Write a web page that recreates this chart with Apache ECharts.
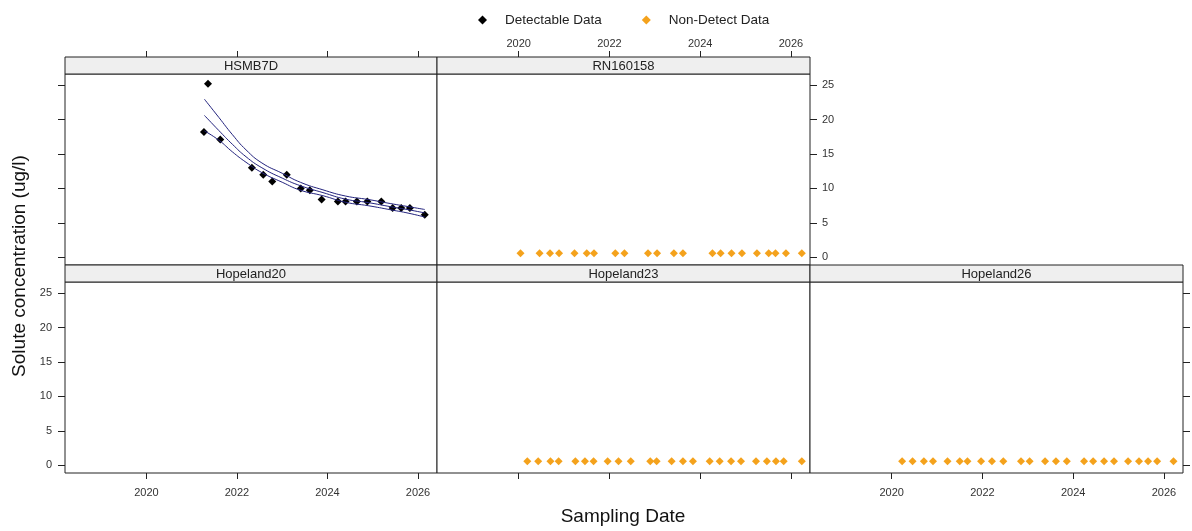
<!DOCTYPE html>
<html>
<head>
<meta charset="utf-8">
<script src="https://cdn.jsdelivr.net/npm/echarts@6/dist/echarts.min.js"></script>
<style>
  html, body { margin: 0; padding: 0; background: #fff; }
  #main { width: 1192px; height: 531px; }
</style>
</head>
<body>
<div id="main"></div>
<script>
// ---- data (decimal years, ug/l) ----
const xTicks = [2020, 2022, 2024, 2026];
const yTicks = [0, 5, 10, 15, 20, 25];

// HSMB7D detectable samples
const hsmbDates = [2021.27, 2021.36, 2021.63, 2022.33, 2022.58, 2022.78, 2023.10, 2023.41, 2023.61, 2023.87,
  2024.23, 2024.40, 2024.65, 2024.88, 2025.19, 2025.44, 2025.63, 2025.82, 2026.15];
const hsmbValues = [18.2, 25.2, 17.1, 13.0, 12.0, 11.0, 12.0, 10.0, 9.75, 8.4,
  8.1, 8.1, 8.1, 8.1, 8.1, 7.15, 7.15, 7.15, 6.2];

// HSMB7D trend line and its bands
const fitDates = [2021.28, 2021.6, 2021.9, 2022.2, 2022.55, 2023.0, 2023.4, 2023.9, 2024.4, 2024.9, 2025.4, 2025.8, 2026.15];
const fitUpper = [22.95, 20.3, 17.8, 15.6, 13.7, 12.2, 10.9, 9.8, 8.9, 8.4, 7.8, 7.35, 6.95];
const fitMid = [20.6, 18.4, 16.4, 14.6, 13.0, 11.5, 10.4, 9.4, 8.45, 7.95, 7.35, 6.9, 6.45];
const fitLower = [18.35, 17.0, 15.3, 13.8, 12.3, 10.9, 9.75, 8.95, 8.0, 7.5, 6.9, 6.4, 5.85];

// non-detects
const rnDates = [2020.04, 2020.46, 2020.69, 2020.89, 2021.23, 2021.50, 2021.66, 2022.13, 2022.33, 2022.85, 2023.05,
  2023.42, 2023.62, 2024.27, 2024.45, 2024.69, 2024.92, 2025.25, 2025.51, 2025.66, 2025.89, 2026.24];
const rnValues = [0.6, 0.6, 0.6, 0.6, 0.6, 0.6, 0.6, 0.6, 0.6, 0.6, 0.6,
  0.6, 0.6, 0.6, 0.6, 0.6, 0.6, 0.6, 0.6, 0.6, 0.6, 0.6];
const h23Dates = [2020.19, 2020.43, 2020.70, 2020.88, 2021.25, 2021.46, 2021.65, 2021.96, 2022.20, 2022.47, 2022.90, 2023.04,
  2023.37, 2023.62, 2023.84, 2024.21, 2024.43, 2024.68, 2024.90, 2025.23, 2025.47, 2025.67, 2025.84, 2026.24];
const h23Values = [0.6, 0.6, 0.6, 0.6, 0.6, 0.6, 0.6, 0.6, 0.6, 0.6, 0.6, 0.6,
  0.6, 0.6, 0.6, 0.6, 0.6, 0.6, 0.6, 0.6, 0.6, 0.6, 0.6, 0.6];
const h26Dates = [2020.23, 2020.46, 2020.71, 2020.91, 2021.23, 2021.50, 2021.67, 2021.97, 2022.21, 2022.46, 2022.85, 2023.04,
  2023.38, 2023.62, 2023.86, 2024.24, 2024.44, 2024.68, 2024.90, 2025.21, 2025.45, 2025.65, 2025.85, 2026.21];
const h26Values = [0.6, 0.6, 0.6, 0.6, 0.6, 0.6, 0.6, 0.6, 0.6, 0.6, 0.6, 0.6,
  0.6, 0.6, 0.6, 0.6, 0.6, 0.6, 0.6, 0.6, 0.6, 0.6, 0.6, 0.6];

const FONT = '"Liberation Sans", Arial, sans-serif';
const ORANGE = '#F4A21C';
const LINE = '#23237e';
const xMin = 2018.2, xMax = 2026.42, yMin = -1.1, yMax = 26.6;

function pairs(xs, ys) {
  return xs.map((x, i) => [x, ys[i]]);
}

// panel layout: plot area + strip on top of it
const panels = [
  { name: 'HSMB7D', left: 65, top: 74, width: 372, xBottom: 'none', xTop: 'ticks', yLeft: 'ticks', yRight: 'none' },
  { name: 'RN160158', left: 437, top: 74, width: 373, xBottom: 'none', xTop: 'labels', yLeft: 'none', yRight: 'labels' },
  { name: 'Hopeland20', left: 65, top: 282, width: 372, xBottom: 'labels', xTop: 'none', yLeft: 'labels', yRight: 'none' },
  { name: 'Hopeland23', left: 437, top: 282, width: 373, xBottom: 'ticks', xTop: 'none', yLeft: 'none', yRight: 'none' },
  { name: 'Hopeland26', left: 810, top: 282, width: 373, xBottom: 'labels', xTop: 'none', yLeft: 'none', yRight: 'ticks' }
];
const plotH = 191, stripH = 17;

const grids = [], xAxes = [], yAxes = [], strips = [];

function xAxis(gridIndex, position, mode, margin) {
  return {
    type: 'value', gridIndex: gridIndex, position: position, min: xMin, max: xMax,
    axisLine: { show: false, onZero: false }, splitLine: { show: false },
    axisTick: { show: mode !== 'none', customValues: xTicks, length: 6, lineStyle: { color: '#222' } },
    axisLabel: { show: mode === 'labels', customValues: xTicks, margin: margin, fontSize: 11, color: '#333',
      fontFamily: FONT, formatter: v => String(v) }
  };
}
function yAxis(gridIndex, position, mode, margin) {
  return {
    type: 'value', gridIndex: gridIndex, position: position, min: yMin, max: yMax,
    axisLine: { show: false, onZero: false }, splitLine: { show: false },
    axisTick: { show: mode !== 'none', customValues: yTicks, length: 7, lineStyle: { color: '#222' } },
    axisLabel: { show: mode === 'labels', customValues: yTicks, margin: margin, fontSize: 11, color: '#333',
      fontFamily: FONT, formatter: v => String(v) }
  };
}

panels.forEach((p, i) => {
  grids.push({ left: p.left, top: p.top, width: p.width, height: plotH, show: true,
    borderColor: '#222', borderWidth: 1, backgroundColor: '#fff' });
  xAxes.push(xAxis(i, 'bottom', p.xBottom, 14));
  yAxes.push(yAxis(i, 'left', p.yLeft, 13));
});
panels.forEach((p, i) => {
  yAxes.push(yAxis(i, 'right', p.yRight, 12));
});
// strips
panels.forEach((p, i) => {
  const g = grids.length;
  grids.push({ left: p.left, top: p.top - stripH, width: p.width, height: stripH, show: true,
    borderColor: '#222', borderWidth: 1, backgroundColor: '#efefef' });
  xAxes.push(xAxis(g, 'top', p.xTop, 8));
  const ya = yAxis(g, 'left', 'none', 0);
  ya.show = false;
  yAxes.push(ya);
  strips.push({
    type: 'text', x: p.left + p.width / 2, y: p.top - stripH / 2 + 0.5,
    style: { text: p.name, textAlign: 'center', textVerticalAlign: 'middle', fontSize: 13, fill: '#222', fontFamily: FONT }
  });
});

const fitLine = (data) => ({
  name: 'fit', type: 'line', xAxisIndex: 0, yAxisIndex: 0, data: data, showSymbol: false, smooth: true,
  lineStyle: { color: LINE, width: 1 }, z: 5, silent: true
});
const ndScatter = (idx, data) => ({
  name: 'Non-Detect Data', type: 'scatter', xAxisIndex: idx, yAxisIndex: idx, data: data,
  symbol: 'diamond', symbolSize: 8, itemStyle: { color: ORANGE, opacity: 1 }
});

const option = {
  animation: false,
  backgroundColor: '#fff',
  legend: {
    top: 8, left: 473, itemWidth: 9, itemHeight: 9, itemGap: 40, icon: 'diamond',
    textStyle: { fontSize: 13.5, color: '#222', fontFamily: FONT, padding: [0, 0, 0, 13] },
    data: ['Detectable Data', 'Non-Detect Data']
  },
  grid: grids,
  xAxis: xAxes,
  yAxis: yAxes,
  graphic: strips.concat([
    { type: 'text', x: 20, y: 266, rotation: Math.PI / 2,
      style: { text: 'Solute concentration (ug/l)', textAlign: 'center', textVerticalAlign: 'middle', fontSize: 19, fill: '#111', fontFamily: FONT } },
    { type: 'text', x: 623, y: 517,
      style: { text: 'Sampling Date', textAlign: 'center', textVerticalAlign: 'middle', fontSize: 19, fill: '#111', fontFamily: FONT } }
  ]),
  series: [
    { name: 'Detectable Data', type: 'scatter', xAxisIndex: 0, yAxisIndex: 0, data: pairs(hsmbDates, hsmbValues),
      symbol: 'diamond', symbolSize: 8, itemStyle: { color: '#000', opacity: 1 }, z: 3 },
    fitLine(pairs(fitDates, fitUpper)),
    fitLine(pairs(fitDates, fitMid)),
    fitLine(pairs(fitDates, fitLower)),
    ndScatter(1, pairs(rnDates, rnValues)),
    ndScatter(3, pairs(h23Dates, h23Values)),
    ndScatter(4, pairs(h26Dates, h26Values))
  ]
};

const chart = echarts.init(document.getElementById('main'));
chart.setOption(option);
</script>
</body>
</html>
